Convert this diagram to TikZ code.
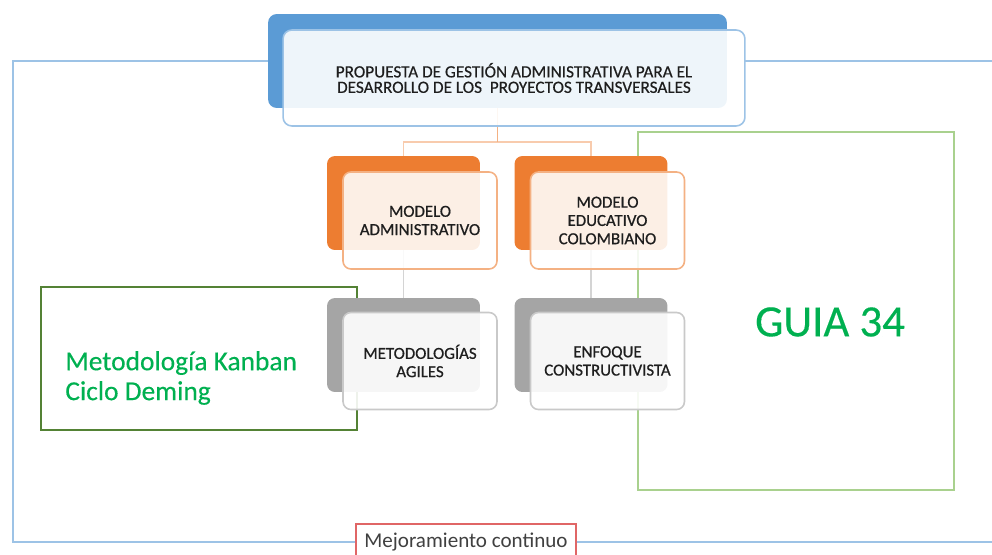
\documentclass[tikz,border=0pt]{standalone}
\usepackage{fontspec}
\setmainfont{Carlito}
\definecolor{BLD}{HTML}{5B9BD5}
\definecolor{BLL}{HTML}{9DC3E6}
\definecolor{ORD}{HTML}{ED7D31}
\definecolor{ORL}{HTML}{F4B183}
\definecolor{ORX}{HTML}{F8CBAD}
\definecolor{GRD}{HTML}{A5A5A5}
\definecolor{GRL}{HTML}{C9C9C9}
\definecolor{GND}{HTML}{548235}
\definecolor{GNL}{HTML}{A9D18E}
\definecolor{GNT}{HTML}{00B050}
\definecolor{RDL}{HTML}{E06666}
\definecolor{TXT}{HTML}{1E1E1E}
\tikzset{
    BB/.style ={rectangle,rounded corners=5pt,minimum width=9.18cm,minimum height=1.88cm,fill=BLD},
    BF/.style ={rectangle,rounded corners=5pt,minimum width=9.24cm,minimum height=1.92cm,draw=BLL,line width=0.9pt,
                fill=white,fill opacity=0.9,text opacity=1,align=center,text=TXT,
                font=\fontsize{9.8}{8.8}\selectfont\addfontfeature{FakeBold=0.4}},
    OB/.style ={rectangle,rounded corners=4.5pt,minimum width=3.06cm,minimum height=1.88cm,fill=ORD},
    OF/.style ={rectangle,rounded corners=4.5pt,minimum width=3.08cm,minimum height=1.94cm,draw=ORL,line width=0.9pt,
                fill=white,fill opacity=0.88,text opacity=1,align=center,text=TXT,
                font=\fontsize{9.6}{10.4}\selectfont\addfontfeature{FakeBold=0.7}},
    GB/.style ={OB,fill=GRD},
    GF/.style ={OF,draw=GRL,fill opacity=0.9},
    GK/.style ={rectangle,minimum width=6.32cm,minimum height=2.86cm,draw=GND,line width=0.7pt},
    GG/.style ={rectangle,minimum width=6.32cm,minimum height=7.16cm,draw=GNL,line width=0.9pt},
    GT/.style ={text=GNT,align=left,inner sep=0pt},
    RM/.style ={rectangle,minimum width=4.4cm,minimum height=0.72cm,draw=RDL,line width=0.8pt,fill=white,
                text=TXT!85,font=\fontsize{12}{14}\selectfont},
    LOOP/.style={draw=BLL,line width=1.1pt},
    OL1/.style ={draw=ORL,line width=1pt},
    OL2/.style ={draw=ORX,line width=1pt},
    GL/.style  ={draw=GRL!80,line width=1pt}}

\begin{document}
\begin{tikzpicture}[x=0.02cm,y=-0.02cm]
        \useasboundingbox (0,0) rectangle (992,555);
        \coordinate (LT) at (13,61);
        \coordinate (RB) at (1000,542);
        \node[RM] (mejora) at (466,542) {Mejoramiento continuo};
        \draw[LOOP] (mejora.west) -| (LT) -- (268,61);
        \draw[LOOP] (mejora.east) -| (RB |- LT) -- (745,61);

        \node[GK] (kanban) at (199,358.5) {};
        \node[GG] (guia) at (796,311) {};
        \node[GT,anchor=west,font=\fontsize{15.6}{17}\selectfont\addfontfeature{FakeBold=0.3}] (kanbantxt) at (65,378) {Metodología Kanban\\Ciclo Deming};
        \node[GT,font=\fontsize{25.5}{30}\selectfont\addfontfeature{FakeBold=0.3}] (guiatxt) at (830,322) {GUIA 34};

        \node[BB] (topB) at (497.5,61) {};
        \node[OB] (admB) at (403.5,203) {};
        \node[OB] (eduB) at (591,203) {};
        \node[GB] (agiB) at (403.5,345) {};
        \node[GB] (conB) at (591,345) {};

        \draw[OL2] (admB.north) |- (497.5,142) -| (eduB.north);
        \draw[OL1] (topB.south) -- (497.5,142);
        \draw[GL] (admB.south) -- (agiB.north);
        \draw[GL] (eduB.south) -- (conB.north);

        \node[BF] (topF) at (514,78) {PROPUESTA DE GESTIÓN ADMINISTRATIVA PARA EL\\DESARROLLO DE LOS\ \ PROYECTOS TRANSVERSALES};
        \node[OF] (admF) at (420,220.5) {MODELO\\ADMINISTRATIVO};
        \node[OF] (eduF) at (607.5,220.5) {MODELO\\EDUCATIVO\\COLOMBIANO};
        \node[GF] (agiF) at (420,361) {METODOLOGÍAS\\AGILES};
        \node[GF] (conF) at (607.5,361) {ENFOQUE\\CONSTRUCTIVISTA};
\end{tikzpicture}
\end{document}
